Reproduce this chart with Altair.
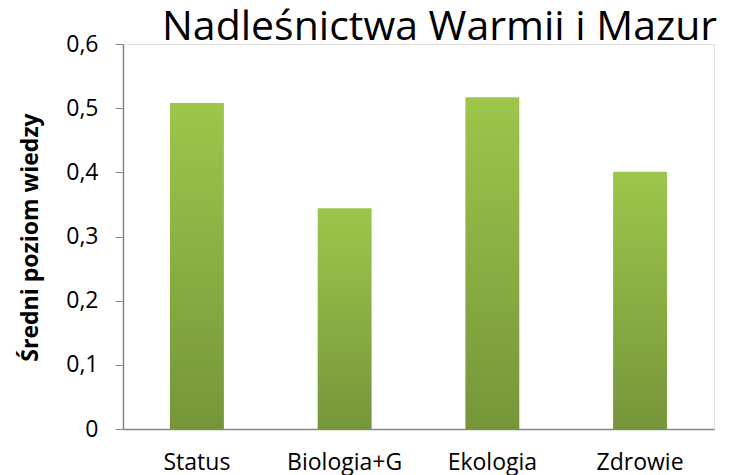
import altair as alt
import pandas as pd

categories = ["Status", "Biologia+G", "Ekologia", "Zdrowie"]
values = [0.508, 0.344, 0.517, 0.401]
title_text = "Nadleśnictwa Warmii i Mazur"
y_title = "Średni poziom wiedzy"

df = pd.DataFrame({"kategoria": categories, "wartosc": values})

FONT = "Open Sans"

grad = alt.LinearGradient(
    gradient="linear",
    stops=[
        alt.GradientStop(color="#76953A", offset=0),
        alt.GradientStop(color="#9DC64B", offset=1),
    ],
    x1=0, x2=0, y1=1, y2=0,
)

chart = (
    alt.Chart(df)
    .mark_bar(color=grad)
    .encode(
        x=alt.X(
            "kategoria:N",
            sort=categories,
            scale=alt.Scale(paddingInner=0.635, paddingOuter=0.318),
            axis=alt.Axis(
                title=None,
                labelAngle=0,
                ticks=False,
                labelPadding=22,
                labelFont=FONT,
                labelFontSize=23,
                labelColor="#000000",
                domainColor="#868686",
                domainWidth=1.5,
            ),
        ),
        y=alt.Y(
            "wartosc:Q",
            scale=alt.Scale(domain=[0, 0.6], nice=False),
            axis=alt.Axis(
                title=y_title,
                values=[0, 0.1, 0.2, 0.3, 0.4, 0.5, 0.6],
                labelExpr="datum.value == 0 ? '0' : replace(format(datum.value, '.1f'), '.', ',')",
                grid=False,
                tickSize=8,
                tickColor="#868686",
                domainColor="#868686",
                domainWidth=1.5,
                labelPadding=17,
                labelFont=FONT,
                labelFontSize=23,
                labelColor="#000000",
                titleFont=FONT,
                titleFontSize=23,
                titleFontWeight="bold",
                titleColor="#000000",
                titleX=-93,
                titleY=193,
                titleAlign="center",
                titleBaseline="middle",
            ),
        ),
    )
    .properties(
        width=591,
        height=385,
        title=alt.TitleParams(
            text=title_text,
            font=FONT,
            fontSize=41,
            fontWeight="normal",
            color="#000000",
            anchor="start",
            frame="group",
            dx=39,
            offset=-16,
        ),
        autosize=alt.AutoSizeParams(type="none"),
        padding={"left": 115, "top": 36, "right": 10, "bottom": 46},
    )
    .configure_view(stroke=None)
    .configure(background="white")
)

chart.save("out.html", embed_options={"renderer": "svg", "actions": False})
